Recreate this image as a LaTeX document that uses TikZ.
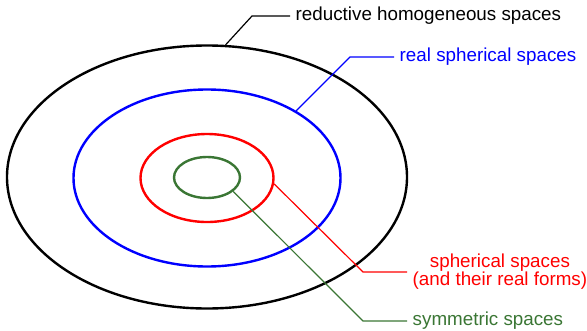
\documentclass[tikz,border=0pt]{standalone}
\usepackage{fontspec}
\setsansfont{Liberation Sans}
\usepackage{tikz}
\usetikzlibrary{shapes.geometric}

\definecolor{symgreen}{RGB}{58,118,52}

\begin{document}
\begin{tikzpicture}[
    x=1pt, y=-1pt,
    ring/.style={ellipse, draw, line width=2.4pt, inner sep=0pt, anchor=center},
    lead/.style={line width=1.2pt},
    lbl/.style={anchor=west, inner sep=5.5pt, font=\sffamily\fontsize{18.8}{18}\selectfont}
]
\useasboundingbox (0,0) rectangle (587,330);

% nested classes of spaces
\node[ring, black, minimum width=400pt, minimum height=263pt] (reductive) at (207,177) {};
\node[ring, blue, minimum width=267pt, minimum height=177pt] (realsph) at (207,178) {};
\node[ring, red, minimum width=133pt, minimum height=88pt] (sph) at (207,178) {};
\node[ring, symgreen, minimum width=66pt, minimum height=41pt] (sym) at (207,177.5) {};

% labels
\node[lbl, black] (reductiveText) at (290,16) {reductive homogeneous spaces};
\node[lbl, blue] (realsphText) at (394,57) {real spherical spaces};
\node[lbl, red, align=center] (sphText) at (407,272) {spherical spaces\\(and their real forms)};
\node[lbl, symgreen] (symText) at (407,321) {symmetric spaces};

% leader lines
\draw[lead, black] (reductive.82) -- (252,16) -- (reductiveText.west);
\draw[lead, blue] (realsph.37) -- (350,57) -- (realsphText.west);
\draw[lead, red] (sph.-5) -- (363,272) -- (sphText.west);
\draw[lead, symgreen] (sym.-28) -- (363,321) -- (symText.west);

\end{tikzpicture}
\end{document}
